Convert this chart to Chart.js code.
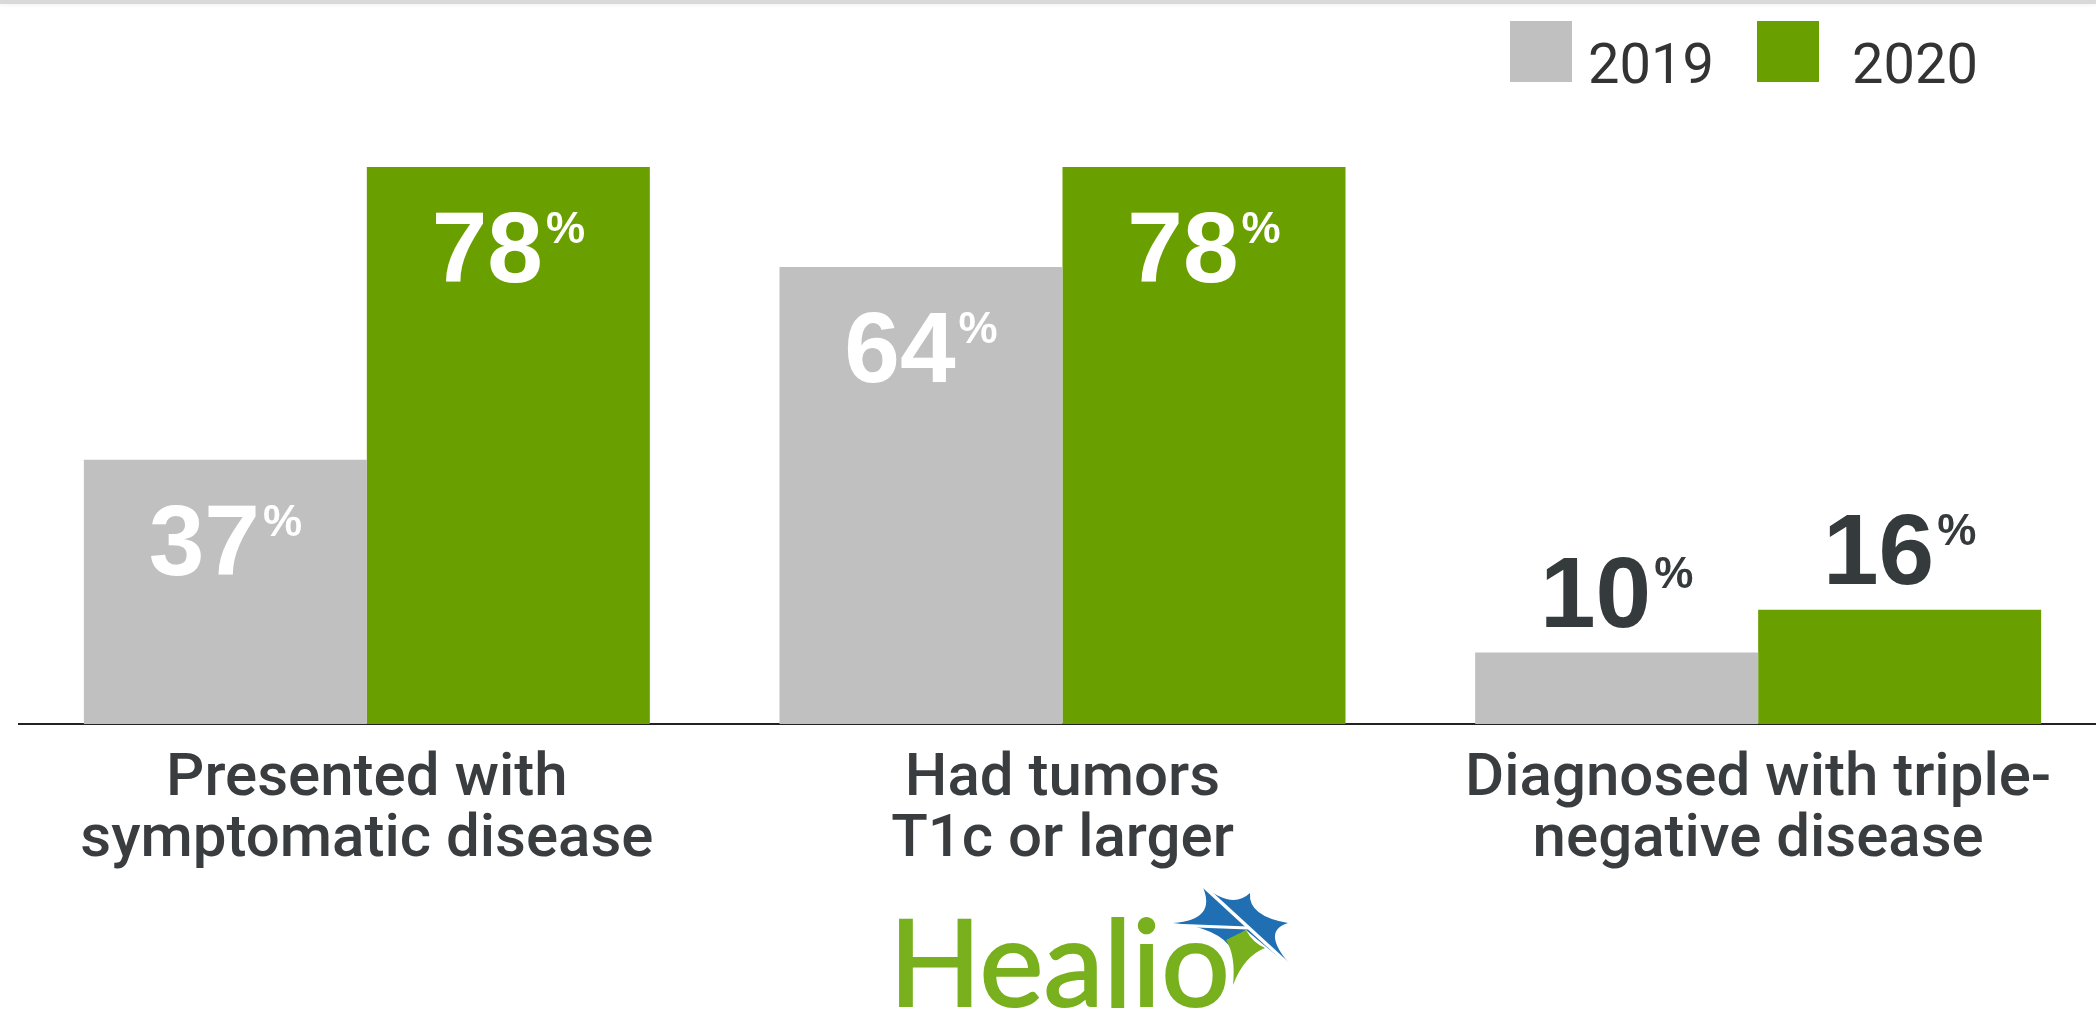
<!DOCTYPE html>
<html>
<head>
<meta charset="utf-8">
<script src="https://cdn.jsdelivr.net/npm/chart.js@4.4.1/dist/chart.umd.min.js"></script>
<style>
  html, body { margin: 0; padding: 0; background: #fff; overflow: hidden; }
  body { width: 2096px; height: 1010px; position: relative; }
  .top-band { position: absolute; left: 0; top: 0; width: 2096px; height: 4px; background: #d9d9d9; box-shadow: 0 1px 4px rgba(0,0,0,0.06); }
  .chart-wrap { position: absolute; left: 0; top: 0; width: 2106px; height: 1010px; }
  .legend-box { position: absolute; width: 62px; height: 61px; top: 21px; }
  .legend-text { position: absolute; top: 36px; font: 56px/56px Roboto, sans-serif; color: #333; white-space: nowrap; }
  .logo { position: absolute; left: 889px; top: 899px; font: 121px/121px Lato, sans-serif; color: #78b01e; white-space: nowrap; -webkit-text-stroke: 2px #78b01e; }
  .star { position: absolute; left: 1160px; top: 880px; }
</style>
</head>
<body>
<div class="top-band"></div>
<div class="chart-wrap"><canvas id="chart" width="2106" height="1010"></canvas></div>

<div class="legend-box" style="left:1510px;background:#c0c0c0"></div>
<div class="legend-text" style="left:1588px">2019</div>
<div class="legend-box" style="left:1757px;background:#6a9f00"></div>
<div class="legend-text" style="left:1852px">2020</div>

<div class="logo">Healio</div>
<svg class="star" width="150" height="115" viewBox="0 0 150 115">
  <path d="M13,43 Q58,40 42,5 Q72,30 90,13 Q88,36 128,43 Q98,52 137,92 Q100,62 86,50 Q70,60 72,70 Q60,48 13,43 Z" fill="#1f6fb2"/>
  <path d="M86,50 Q92,62 105,68 Q84,76 73,105 Q76,76 66,60 Z" fill="#78b01e"/>
  <line x1="40" y1="3" x2="139" y2="94" stroke="#fff" stroke-width="3.5"/>
  <line x1="10" y1="45" x2="88" y2="48" stroke="#fff" stroke-width="3"/>
</svg>

<script>
const categories = [
  ["Presented with", "symptomatic disease"],
  ["Had tumors", "T1c or larger"],
  ["Diagnosed with triple-", "negative disease"]
];
const seriesNames = ["2019", "2020"];
const values2019 = [37, 64, 10];
const values2020 = [78, 78, 16];
const seriesColors = ["#c0c0c0", "#6a9f00"];

// Percent labels: big bold number with a small raised % sign
const percentLabels = {
  id: "percentLabels",
  afterDatasetsDraw(chart) {
    const ctx = chart.ctx;
    ctx.save();
    chart.data.datasets.forEach((ds, di) => {
      chart.getDatasetMeta(di).data.forEach((bar, i) => {
        const v = ds.data[i];
        const inside = v > 30;
        const num = String(v);
        ctx.font = "bold 100px 'Liberation Sans', Arial, sans-serif";
        const wNum = ctx.measureText(num).width;
        ctx.font = "bold 44px 'Liberation Sans', Arial, sans-serif";
        const wPct = ctx.measureText("%").width;
        const total = wNum + 3 + wPct;
        const x0 = bar.x - total / 2;
        const base = inside ? bar.y + 115 : bar.y - 26;
        ctx.fillStyle = inside ? "#ffffff" : "#353a3d";
        ctx.textAlign = "left";
        ctx.textBaseline = "alphabetic";
        ctx.font = "bold 100px 'Liberation Sans', Arial, sans-serif";
        ctx.fillText(num, x0, base);
        ctx.font = "bold 44px 'Liberation Sans', Arial, sans-serif";
        ctx.fillText("%", x0 + wNum + 3, base - 39);
      });
    });
    ctx.restore();
  }
};

const ctx = document.getElementById("chart").getContext("2d");
new Chart(ctx, {
  type: "bar",
  data: {
    labels: categories,
    datasets: [
      { label: seriesNames[0], data: values2019, backgroundColor: seriesColors[0] },
      { label: seriesNames[1], data: values2020, backgroundColor: seriesColors[1] }
    ]
  },
  options: {
    responsive: false,
    devicePixelRatio: 1,
    animation: false,
    layout: { padding: { left: 19, right: 0, top: 10, bottom: 0 } },
    datasets: {
      bar: { barPercentage: 1, categoryPercentage: 0.8136, borderWidth: 0 }
    },
    plugins: {
      legend: { display: false },
      tooltip: { enabled: false }
    },
    scales: {
      x: {
        grid: { display: false },
        border: { display: true, color: "#222", width: 2 },
        ticks: {
          color: "#3a3d40",
          font: { family: "Roboto", size: 60, weight: "500", lineHeight: 1.02 },
          padding: 17,
          maxRotation: 0,
          autoSkip: false
        },
        afterFit: (scale) => { scale.height = 286; }
      },
      y: {
        display: false,
        min: 0,
        max: 100
      }
    }
  },
  plugins: [percentLabels]
});
</script>
</body>
</html>
